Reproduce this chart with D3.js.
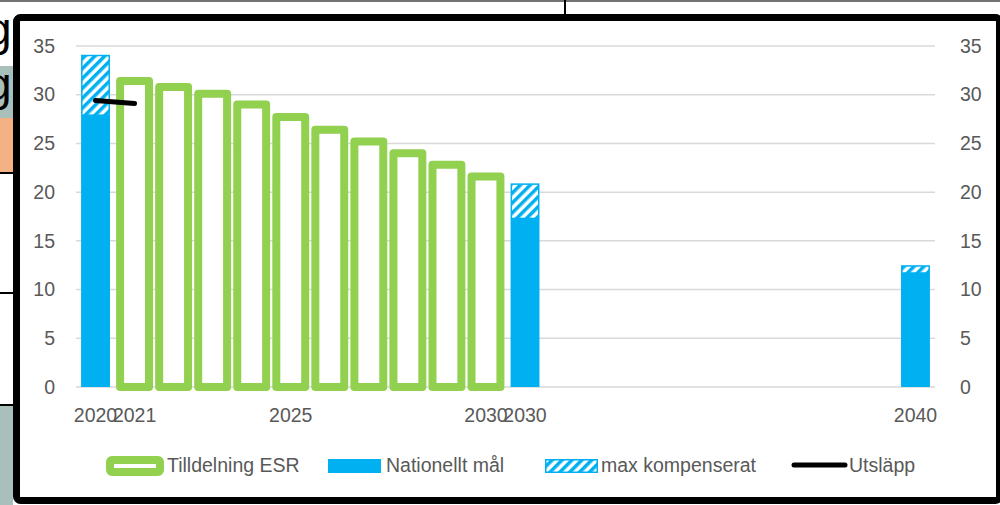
<!DOCTYPE html>
<html>
<head>
<meta charset="utf-8">
<script src="https://cdn.jsdelivr.net/npm/d3@7"></script>
<style>
  body { margin: 0; background: #fff; }
  svg { display: block; }
  text { font-family: "Liberation Sans", Arial, sans-serif; }
</style>
</head>
<body>
<div id="chart"></div>
<script>
// categories on the x axis (second 2030 is the national target column)
const years = ["2020", "2021", "2022", "2023", "2024", "2025", "2026", "2027", "2028", "2029", "2030",
    "2030 mål", "2031", "2032", "2033", "2034", "2035", "2036", "2037", "2038", "2039", "2040"];
const yearLabels = ["2020", "2021", "", "", "", "2025", "", "", "", "", "2030",
    "2030", "", "", "", "", "", "", "", "", "", "2040"];

// Tilldelning ESR
const esrYears = ["2021", "2022", "2023", "2024", "2025", "2026", "2027", "2028", "2029", "2030"];
const esrValues = [31.4, 30.8, 30.1, 29.0, 27.7, 26.4, 25.2, 24.0, 22.8, 21.6];

// Nationellt mål + max kompenserat (stacked)
const targetYears = ["2020", "2030 mål", "2040"];
const targetValues = [27.9, 17.3, 11.7];
const compValues = [6.2, 3.6, 0.8];

// Utsläpp
const emissionYears = ["2020", "2021"];
const emissionValues = [29.4, 29.1];

const yTicks = [0, 5, 10, 15, 20, 25, 30, 35];
const legendNames = ["Tilldelning ESR", "Nationellt mål", "max kompenserat", "Utsläpp"];

const blue = "#00b0f0", green = "#92d050", grid = "#d9d9d9", textCol = "#595959";

const svg = d3.select("#chart").append("svg")
    .attr("width", 1000)
    .attr("height", 505);

const defs = svg.append("defs");
const hatch = defs.append("pattern")
    .attr("id", "hatch")
    .attr("patternUnits", "userSpaceOnUse")
    .attr("width", 7)
    .attr("height", 7)
    .attr("patternTransform", "rotate(45)");
hatch.append("rect").attr("width", 7).attr("height", 7).attr("fill", "#fff");
hatch.append("rect").attr("width", 3.5).attr("height", 7).attr("fill", blue);

defs.append("clipPath").attr("id", "leftClip")
    .append("rect").attr("x", 0).attr("y", 0).attr("width", 13).attr("height", 505);

// --- surrounding page bits (outside the chart frame) ---
const bg = svg.append("g").attr("clip-path", "url(#leftClip)");
bg.append("rect").attr("x", 0).attr("y", 66).attr("width", 13).attr("height", 52).attr("fill", "#a9bfbb");
bg.append("rect").attr("x", 0).attr("y", 118).attr("width", 13).attr("height", 55).attr("fill", "#f4b183");
bg.append("rect").attr("x", 0).attr("y", 405).attr("width", 13).attr("height", 100).attr("fill", "#a9bfbb");
[173, 293, 405].forEach(yy => {
    bg.append("line").attr("x1", 0).attr("x2", 13).attr("y1", yy).attr("y2", yy)
        .attr("stroke", "#000").attr("stroke-width", 2);
});
bg.append("text").attr("x", -14).attr("y", 45).attr("font-size", 46).attr("fill", "#000").text("g");
bg.append("text").attr("x", -14).attr("y", 100).attr("font-size", 46).attr("fill", "#000").text("g");

svg.append("line").attr("x1", 0).attr("x2", 1000).attr("y1", 1).attr("y2", 1)
    .attr("stroke", "#444").attr("stroke-width", 1.5);
svg.append("line").attr("x1", 565).attr("x2", 565).attr("y1", 0).attr("y2", 15)
    .attr("stroke", "#000").attr("stroke-width", 2);

// chart frame
svg.append("rect")
    .attr("x", 16.5).attr("y", 17.5)
    .attr("width", 983).attr("height", 483)
    .attr("rx", 4)
    .attr("fill", "#fff")
    .attr("stroke", "#000")
    .attr("stroke-width", 7);

// --- scales ---
const x = d3.scaleBand()
    .domain(years)
    .range([76, 935])
    .paddingInner(0.26)
    .paddingOuter(0.13);

const y = d3.scaleLinear()
    .domain([0, 35])
    .range([387, 46]);

const bw = x.bandwidth();

// gridlines
svg.append("g").selectAll("line")
    .data(yTicks)
    .enter()
    .append("line")
    .attr("x1", 76).attr("x2", 935)
    .attr("y1", d => y(d)).attr("y2", d => y(d))
    .attr("stroke", grid)
    .attr("stroke-width", 1.5);

// national target (solid)
const targets = targetYears.map((t, i) => ({ year: t, target: targetValues[i], comp: compValues[i] }));
svg.append("g").selectAll("rect")
    .data(targets)
    .enter()
    .append("rect")
    .attr("x", d => x(d.year))
    .attr("y", d => y(d.target))
    .attr("width", bw)
    .attr("height", d => y(0) - y(d.target))
    .attr("fill", blue);

// max kompenserat (hatched)
svg.append("g").selectAll("rect")
    .data(targets)
    .enter()
    .append("rect")
    .attr("x", d => x(d.year) + 0.75)
    .attr("y", d => y(d.target + d.comp) + 0.75)
    .attr("width", bw - 1.5)
    .attr("height", d => y(d.target) - y(d.target + d.comp) - 0.75)
    .attr("fill", "url(#hatch)")
    .attr("stroke", blue)
    .attr("stroke-width", 1.5);

// Tilldelning ESR (outlined)
svg.append("g").selectAll("rect")
    .data(esrYears.map((t, i) => ({ year: t, value: esrValues[i] })))
    .enter()
    .append("rect")
    .attr("x", d => x(d.year))
    .attr("y", d => y(d.value))
    .attr("width", bw)
    .attr("height", d => y(0) - y(d.value))
    .attr("fill", "#fff")
    .attr("stroke", green)
    .attr("stroke-width", 8)
    .attr("stroke-linejoin", "round");

// Utsläpp
const line = d3.line()
    .x(d => x(d.year) + bw / 2)
    .y(d => y(d.value));
svg.append("path")
    .datum(emissionYears.map((t, i) => ({ year: t, value: emissionValues[i] })))
    .attr("d", line)
    .attr("fill", "none")
    .attr("stroke", "#000")
    .attr("stroke-width", 5)
    .attr("stroke-linecap", "round");

// axes
function styleAxis(g) {
    g.select(".domain").remove();
    g.selectAll("text")
        .attr("fill", textCol)
        .attr("font-size", 19.5)
        .attr("font-family", "\"Liberation Sans\", Arial, sans-serif");
}

svg.append("g")
    .attr("transform", "translate(0," + y(0) + ")")
    .call(d3.axisBottom(x).tickSize(0).tickPadding(21).tickFormat((d, i) => yearLabels[i]))
    .call(styleAxis);

svg.append("g")
    .attr("transform", "translate(76,0)")
    .call(d3.axisLeft(y).tickValues(yTicks).tickSize(0).tickPadding(21))
    .call(styleAxis);

svg.append("g")
    .attr("transform", "translate(935,0)")
    .call(d3.axisRight(y).tickValues(yTicks).tickSize(0).tickPadding(25))
    .call(styleAxis);

// legend
const legend = svg.append("g");
legend.append("rect")
    .attr("x", 110).attr("y", 460).attr("width", 50).attr("height", 12)
    .attr("rx", 2)
    .attr("fill", "#fff").attr("stroke", green).attr("stroke-width", 8)
    .attr("stroke-linejoin", "round");
legend.append("rect")
    .attr("x", 328).attr("y", 459).attr("width", 53).attr("height", 14)
    .attr("fill", blue);
legend.append("rect")
    .attr("x", 545.75).attr("y", 459.75).attr("width", 51.5).attr("height", 12.5)
    .attr("fill", "url(#hatch)").attr("stroke", blue).attr("stroke-width", 1.5);
legend.append("line")
    .attr("x1", 794).attr("x2", 845).attr("y1", 465).attr("y2", 465)
    .attr("stroke", "#000").attr("stroke-width", 5).attr("stroke-linecap", "round");

const legendX = [167, 386, 601, 849];
legend.selectAll("text.lbl")
    .data(legendNames)
    .enter()
    .append("text")
    .attr("class", "lbl")
    .attr("x", (d, i) => legendX[i])
    .attr("y", 472)
    .attr("font-size", 19.5)
    .attr("fill", textCol)
    .text(d => d);
</script>
</body>
</html>
